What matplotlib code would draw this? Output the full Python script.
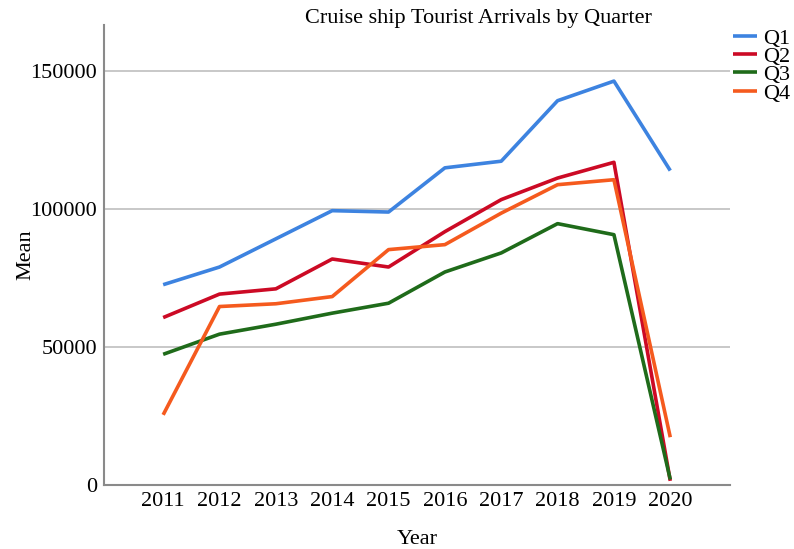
import matplotlib
matplotlib.use("Agg")
import matplotlib.pyplot as plt

years = [2011, 2012, 2013, 2014, 2015, 2016, 2017, 2018, 2019, 2020]
q1 = [72500, 78900, 89100, 99300, 98800, 114800, 117200, 139100, 146200, 113800]
q2 = [60600, 69100, 71000, 81800, 78900, 91700, 103300, 111100, 116800, 1500]
q3 = [47300, 54600, 58200, 62200, 65800, 77100, 84000, 94600, 90600, 2000]
q4 = [25400, 64600, 65600, 68200, 85200, 87000, 98400, 108700, 110500, 17300]
series = {"Q1": q1, "Q2": q2, "Q3": q3, "Q4": q4}
colors = {"Q1": "#3D83E0", "Q2": "#CC0A25", "Q3": "#1F6B1A", "Q4": "#F55A1E"}
yticks = [0, 50000, 100000, 150000]

plt.rcParams['font.family'] = ['Liberation Serif', 'DejaVu Serif']

fig = plt.figure(figsize=(7.94, 5.49), dpi=100)
ax = fig.add_axes([104/794, 1-485/549, (730-104)/794, (485-25)/549])

for name, vals in series.items():
    ax.plot(years, vals, color=colors[name], lw=2.6, label=name, solid_capstyle='butt', zorder=3)

ax.set_xlim(2009.95, 2021.06)
ax.set_ylim(0, 166500)
ax.set_xticks(years)
ax.set_xticklabels([str(y) for y in years])
ax.set_yticks(yticks)
ax.set_yticklabels([str(v) for v in yticks])
ax.tick_params(length=0, labelsize=16, pad=5)
ax.tick_params(axis='x', pad=5)
ax.yaxis.grid(True, color='#c4c4c4', lw=1.3)
ax.set_axisbelow(True)
for s in ['top', 'right']:
    ax.spines[s].set_visible(False)
for s in ['left', 'bottom']:
    ax.spines[s].set_color('#8a8a8a')
    ax.spines[s].set_linewidth(1.5)

ax.set_xlabel('Year', fontsize=16, labelpad=14)
ax.set_ylabel('Mean', fontsize=16, labelpad=-4)
fig.text(478/794, 1-19/549, 'Cruise ship Tourist Arrivals by Quarter', ha='center', va='center', fontsize=16)

leg = ax.legend(loc='upper left', bbox_to_anchor=(733/794, 1-28/549), bbox_transform=fig.transFigure,
                frameon=False, fontsize=16, handlelength=1.1, handletextpad=0.25,
                labelspacing=-0.1, borderpad=0, borderaxespad=0)

fig.savefig('out.png', dpi=100)
